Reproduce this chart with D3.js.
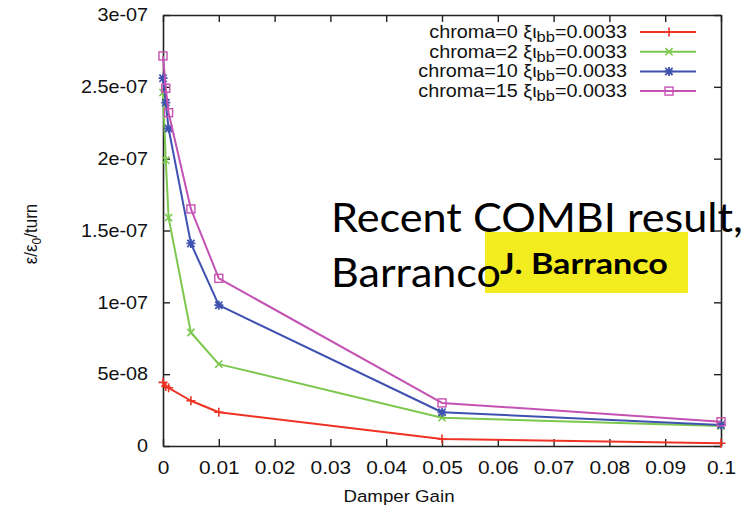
<!DOCTYPE html>
<html>
<head>
<meta charset="utf-8">
<script src="https://cdn.jsdelivr.net/npm/d3@7/dist/d3.min.js"></script>
<style>
  html, body { margin: 0; padding: 0; background: #fff; }
  svg { display: block; }
</style>
</head>
<body>
<svg id="chart" width="749" height="510"></svg>
<script>
// Damper gain values (x) shared by every series
const gains = [0, 0.0005, 0.001, 0.005, 0.01, 0.05, 0.1];

// Emittance growth per turn for each chromaticity setting
const chroma0  = [4.43e-8, 4.15e-8, 4.05e-8, 3.15e-8, 2.35e-8, 4.9e-9, 1.9e-9];
const chroma2  = [2.46e-7, 1.99e-7, 1.59e-7, 7.9e-8, 5.7e-8, 1.97e-8, 1.39e-8];
const chroma10 = [2.56e-7, 2.39e-7, 2.21e-7, 1.41e-7, 9.8e-8, 2.35e-8, 1.46e-8];
const chroma15 = [2.715e-7, 2.49e-7, 2.32e-7, 1.65e-7, 1.167e-7, 3.0e-8, 1.69e-8];

const seriesNames = ["chroma=0", "chroma=2", "chroma=10", "chroma=15"];
const seriesValues = [chroma0, chroma2, chroma10, chroma15];
const seriesColors = ["#ee3324", "#7cc84e", "#3f51b0", "#c452b3"];
const seriesMarkers = ["plus", "cross", "star", "square"];

const xTickValues = [0, 0.01, 0.02, 0.03, 0.04, 0.05, 0.06, 0.07, 0.08, 0.09, 0.1];
const xTickLabels = ["0", "0.01", "0.02", "0.03", "0.04", "0.05", "0.06", "0.07", "0.08", "0.09", "0.1"];
const yTickValues = [0, 5e-8, 1e-7, 1.5e-7, 2e-7, 2.5e-7, 3e-7];
const yTickLabels = ["0", "5e-08", "1e-07", "1.5e-07", "2e-07", "2.5e-07", "3e-07"];

const W = 749, H = 510;
const margin = { left: 163, right: 28, top: 15, bottom: 64 };
const svg = d3.select("#chart");
const FONT = "'Liberation Sans', Arial, Helvetica, sans-serif";
const SX = 1.1; // horizontal stretch of the plot's lettering

const x = d3.scaleLinear().domain([0, 0.1]).range([margin.left, W - margin.right]);
const y = d3.scaleLinear().domain([0, 3e-7]).range([H - margin.bottom, margin.top]);

const axisColor = "#222";

function styleAxis(g, size) {
  g.selectAll("path.domain").attr("stroke", axisColor).attr("stroke-width", 1.6);
  g.selectAll(".tick line").attr("stroke", axisColor).attr("stroke-width", 1.4);
  g.selectAll(".tick text").attr("fill", "#111").attr("font-family", FONT).attr("font-size", size || 18);
}

// bottom axis with labels, ticks pointing into the plot
const gx = svg.append("g")
  .attr("transform", `translate(0,${H - margin.bottom})`)
  .call(d3.axisBottom(x).tickValues(xTickValues)
    .tickFormat((d, i) => xTickLabels[i]).tickSizeInner(-7).tickSizeOuter(0).tickPadding(15));
styleAxis(gx, 19);
gx.selectAll(".tick text").attr("transform", `scale(${SX},1)`);

// top axis, ticks only
const gxt = svg.append("g")
  .attr("transform", `translate(0,${margin.top})`)
  .call(d3.axisTop(x).tickValues(xTickValues).tickFormat("").tickSizeInner(-7).tickSizeOuter(0));
styleAxis(gxt);

// left axis with labels
const gy = svg.append("g")
  .attr("transform", `translate(${margin.left},0)`)
  .call(d3.axisLeft(y).tickValues(yTickValues)
    .tickFormat((d, i) => yTickLabels[i]).tickSizeInner(-7).tickSizeOuter(0).tickPadding(15));
styleAxis(gy, 18);
gy.selectAll(".tick text")
  .attr("x", -15 / SX)
  .attr("transform", `scale(${SX},1)`);

// right axis, ticks only
const gyr = svg.append("g")
  .attr("transform", `translate(${W - margin.right},0)`)
  .call(d3.axisRight(y).tickValues(yTickValues).tickFormat("").tickSizeInner(-7).tickSizeOuter(0));
styleAxis(gyr);

// axis titles
svg.append("text")
  .attr("transform", `translate(399,502) scale(${SX},1)`)
  .attr("text-anchor", "middle")
  .attr("font-family", FONT).attr("font-size", 17).attr("fill", "#111")
  .text("Damper Gain");

const ylab = svg.append("text")
  .attr("transform", `translate(37,234) rotate(-90) scale(1,${SX})`)
  .attr("text-anchor", "middle")
  .attr("font-family", FONT).attr("font-size", 17).attr("fill", "#111");
ylab.append("tspan").text("ε/ε");
ylab.append("tspan").attr("font-size", 12).attr("dy", 4).text("0");
ylab.append("tspan").attr("dy", -4).text("/turn");

// marker symbols
function drawMarker(g, type, cx, cy, color) {
  const s = 4.5;
  if (type === "plus") {
    g.append("path").attr("d", `M${cx - s},${cy}H${cx + s}M${cx},${cy - s}V${cy + s}`)
      .attr("stroke", color).attr("stroke-width", 1.6).attr("fill", "none");
  } else if (type === "cross") {
    const t = s * 0.8;
    g.append("path").attr("d", `M${cx - t},${cy - t}L${cx + t},${cy + t}M${cx - t},${cy + t}L${cx + t},${cy - t}`)
      .attr("stroke", color).attr("stroke-width", 1.6).attr("fill", "none");
  } else if (type === "star") {
    const t = s * 0.8;
    g.append("path").attr("d",
      `M${cx - s},${cy}H${cx + s}M${cx},${cy - s}V${cy + s}` +
      `M${cx - t},${cy - t}L${cx + t},${cy + t}M${cx - t},${cy + t}L${cx + t},${cy - t}`)
      .attr("stroke", color).attr("stroke-width", 1.8).attr("fill", "none");
  } else if (type === "square") {
    g.append("rect").attr("x", cx - 4).attr("y", cy - 4).attr("width", 8).attr("height", 8)
      .attr("stroke", color).attr("stroke-width", 1.4).attr("fill", "none");
  }
}

const line = d3.line().x(d => x(d[0])).y(d => y(d[1]));

seriesValues.forEach((vals, si) => {
  const pts = gains.map((g, i) => [g, vals[i]]);
  const g = svg.append("g");
  g.append("path").datum(pts).attr("d", line)
    .attr("fill", "none").attr("stroke", seriesColors[si]).attr("stroke-width", 2)
    .attr("stroke-linejoin", "round");
  pts.forEach(p => drawMarker(g, seriesMarkers[si], x(p[0]), y(p[1]), seriesColors[si]));
});

// legend
const legendTextRight = 627;
const legendLineX0 = 640, legendLineX1 = 696;
const legendY0 = 32, legendDy = 19.7;
seriesNames.forEach((name, i) => {
  const ly = legendY0 + i * legendDy;
  const t = svg.append("text")
    .attr("transform", `translate(${legendTextRight},${ly + 6}) scale(${SX},1)`)
    .attr("text-anchor", "end")
    .attr("font-family", FONT).attr("font-size", 18).attr("fill", "#111");
  t.append("tspan").text(name + " ξι");
  t.append("tspan").attr("font-size", 15).attr("dy", 4).text("bb");
  t.append("tspan").attr("dy", -4).text("=0.0033");
  svg.append("line").attr("x1", legendLineX0).attr("x2", legendLineX1)
    .attr("y1", ly).attr("y2", ly)
    .attr("stroke", seriesColors[i]).attr("stroke-width", 2);
  drawMarker(svg.append("g"), seriesMarkers[i], (legendLineX0 + legendLineX1) / 2 + 1, ly, seriesColors[i]);
});

// text fitted to a given width by stretching horizontally
function fittedText(str, x0, baseline, width, size, weight) {
  const t = svg.append("text")
    .attr("font-family", "Lato, 'Open Sans', sans-serif")
    .attr("font-size", size).attr("font-weight", weight).attr("fill", "#000")
    .text(str);
  const bb = t.node().getBBox();
  const k = width / bb.width;
  t.attr("transform", `translate(${x0 - bb.x * k},${baseline}) scale(${k},1)`);
  return t;
}

// annotation box and captions
svg.append("rect").attr("x", 485).attr("y", 232).attr("width", 203).attr("height", 61)
  .attr("fill", "#f3ec1f");
fittedText("J. Barranco", 500, 274, 168, 28, 700);
fittedText("Recent COMBI result,", 331, 232, 412, 40, 400);
fittedText("Barranco", 331, 287, 170, 40, 400);
</script>
</body>
</html>
